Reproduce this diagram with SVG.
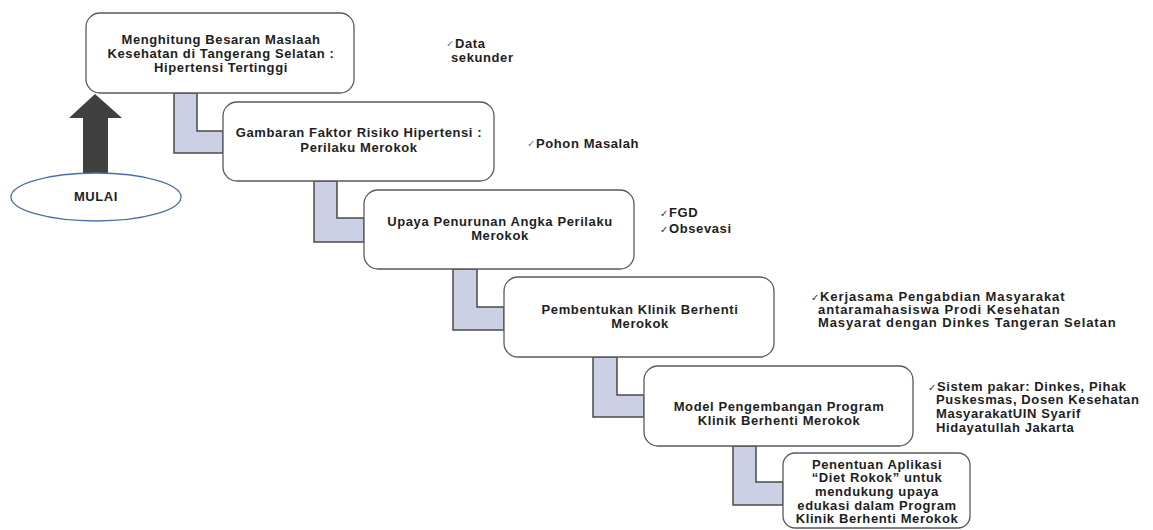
<svg xmlns="http://www.w3.org/2000/svg" width="1153" height="530" viewBox="0 0 1153 530">
  <style>
    .box { fill: #ffffff; stroke: #5a5a5a; stroke-width: 1.3; }
    .link { fill: #cbd0e4; stroke: #4a4a4a; stroke-width: 1.5; stroke-linejoin: miter; }
    .t { font-family: "Liberation Sans", Arial, sans-serif; font-weight: bold; font-size: 13px; letter-spacing: 0.6px; fill: #1e1e1e; text-anchor: middle; }
    .n { font-family: "Liberation Sans", Arial, sans-serif; font-weight: bold; font-size: 13px; letter-spacing: 0.6px; fill: #1e1e1e; }
    .wide { letter-spacing: 0.9px; }
    .ck { font-family: "DejaVu Sans", sans-serif; font-size: 10px; fill: #333333; }
    .ckb { fill: #6a7f9a; }
  </style>

  <!-- stepped L-shaped connectors between steps -->
  <g id="connectors">
    <polygon class="link" points="174,93 197,93 197,131 223,131 223,153 174,153"/>
    <polygon class="link" points="314,181 337,181 337,218 364,218 364,242 314,242"/>
    <polygon class="link" points="453,269 477,269 477,307 504,307 504,330 453,330"/>
    <polygon class="link" points="593,357 617,357 617,395 644,395 644,417 593,417"/>
    <polygon class="link" points="733,446 756,446 756,482 783,482 783,505 733,505"/>
  </g>

  <!-- start marker with arrow pointing up to the first step -->
  <g id="start">
    <polygon points="95,94 122,118 108,118 108,176 83,176 83,118 69,118" fill="#404040"/>
    <ellipse cx="96" cy="197" rx="85" ry="24" fill="#ffffff" stroke="#4a6ea8" stroke-width="1.3"/>
    <text class="t" x="96" y="201">MULAI</text>
  </g>

  <g id="step1">
    <rect class="box" x="86" y="13" width="268" height="80" rx="14"/>
    <text class="t" x="221" y="44">Menghitung Besaran Maslaah</text>
    <text class="t" x="221" y="58">Kesehatan di Tangerang Selatan :</text>
    <text class="t" x="221" y="72">Hipertensi Tertinggi</text>
  </g>

  <g id="step2">
    <rect class="box" x="223" y="102" width="271" height="79" rx="14"/>
    <text class="t" x="359" y="137">Gambaran Faktor Risiko Hipertensi :</text>
    <text class="t" x="359" y="152">Perilaku Merokok</text>
  </g>

  <g id="step3">
    <rect class="box" x="364" y="190" width="270" height="79" rx="14"/>
    <text class="t" x="500" y="226">Upaya Penurunan Angka Perilaku</text>
    <text class="t" x="500" y="240">Merokok</text>
  </g>

  <g id="step4">
    <rect class="box" x="504" y="277" width="270" height="80" rx="14"/>
    <text class="t" x="640" y="314">Pembentukan Klinik Berhenti</text>
    <text class="t" x="640" y="328">Merokok</text>
  </g>

  <g id="step5">
    <rect class="box" x="644" y="366" width="269" height="80" rx="14"/>
    <text class="t" x="779" y="411">Model Pengembangan Program</text>
    <text class="t" x="779" y="425">Klinik Berhenti Merokok</text>
  </g>

  <g id="step6">
    <rect class="box" x="783" y="453" width="187" height="75" rx="12"/>
    <text class="t" x="877" y="469">Penentuan Aplikasi</text>
    <text class="t" x="877" y="482">“Diet Rokok” untuk</text>
    <text class="t" x="877" y="496">mendukung upaya</text>
    <text class="t" x="877" y="510">edukasi dalam Program</text>
    <text class="t" x="877" y="523">Klinik Berhenti Merokok</text>
  </g>

  <!-- methods used at each step -->
  <g id="note1">
    <text class="ck ckb" x="446" y="47">✓</text>
    <text class="n" x="455" y="48">Data</text>
    <text class="n" x="451" y="62">sekunder</text>
  </g>
  <g id="note2">
    <text class="ck ckb" x="527" y="147">✓</text>
    <text class="n" x="536" y="148">Pohon Masalah</text>
  </g>
  <g id="note3">
    <text class="ck" x="660" y="217">✓</text>
    <text class="n" x="669" y="217">FGD</text>
    <text class="ck" x="660" y="233">✓</text>
    <text class="n" x="669" y="233">Obsevasi</text>
  </g>
  <g id="note4">
    <text class="ck" x="811" y="301">✓</text>
    <text class="n wide" x="820" y="301">Kerjasama Pengabdian Masyarakat</text>
    <text class="n wide" x="818" y="314">antaramahasiswa Prodi Kesehatan</text>
    <text class="n wide" x="818" y="327">Masyarat dengan Dinkes Tangeran Selatan</text>
  </g>
  <g id="note5">
    <text class="ck" x="928" y="391">✓</text>
    <text class="n" x="937" y="391">Sistem pakar: Dinkes, Pihak</text>
    <text class="n" x="936" y="404">Puskesmas, Dosen Kesehatan</text>
    <text class="n" x="936" y="418">MasyarakatUIN Syarif</text>
    <text class="n" x="936" y="432">Hidayatullah Jakarta</text>
  </g>
</svg>
